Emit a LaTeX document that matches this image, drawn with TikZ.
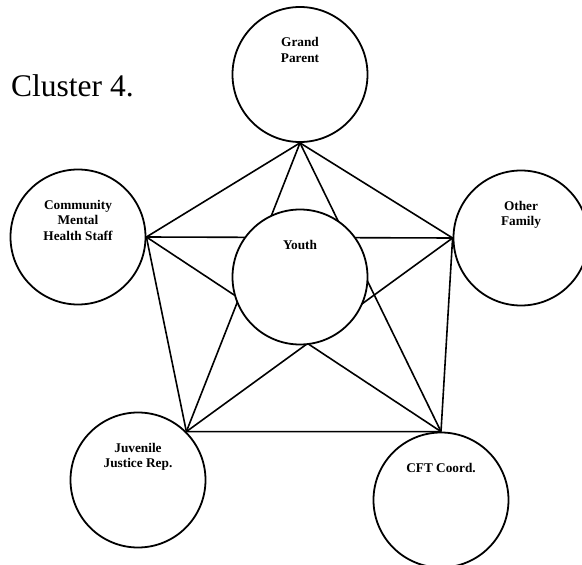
\documentclass[tikz,border=0pt]{standalone}
\usepackage{fontspec}
\setmainfont{Liberation Serif}
\usepackage{tikz}
\usetikzlibrary{positioning}

\begin{document}
\begin{tikzpicture}[
    x=1pt, y=-1pt,
    member/.style={circle, draw=black, line width=1.8pt, minimum size=135pt,
        inner sep=0pt},
    lbl/.style={font=\fontsize{13.3}{15.5}\selectfont\bfseries, align=center,
        inner sep=0pt},
    link/.style={line width=1.6pt, black}
]
    \useasboundingbox (0,0) rectangle (582,565);
    \node[font=\fontsize{31.5}{36}\selectfont, anchor=base west, inner sep=0pt]
        (title) at (11,96) {Cluster 4.};
    % outer circles
    \node[member] (gp)    at (300,74.5) {};
    \node[member] (cmh)   at (78,237)   {};
    \node[member] (other) at (521,238)  {};
    \node[member] (jj)    at (138,480)  {};
    \node[member] (cft)   at (441,500)  {};
    % every member linked to every other one
    \draw[link] (gp.south) -- (cmh.east);
    \draw[link] (gp.south) -- (other.west);
    \draw[link] (gp.south) -- (jj.north east);
    \draw[link] (gp.south) -- (cft.north);
    \draw[link] (cmh.east) -- (other.west);
    \draw[link] (cmh.east) -- (jj.north east);
    \draw[link] (cmh.east) -- (cft.north);
    \draw[link] (other.west) -- (jj.north east);
    \draw[link] (other.west) -- (cft.north);
    \draw[link] (jj.north east) -- (cft.north);
    % youth in the middle, on top of the links
    \node[member, fill=white] (youth) at (300,277) {};
    % labels
    \node[lbl, below=31pt] at (gp.north)    {Grand\\Parent};
    \node[lbl, below=31pt] at (cmh.north)   {Community\\Mental\\Health Staff};
    \node[lbl, below=31pt] at (other.north) {Other\\Family};
    \node[lbl, below=31pt] at (youth.north) {Youth};
    \node[lbl, below=31pt] at (jj.north)    {Juvenile\\Justice Rep.};
    \node[lbl, below=31pt] at (cft.north)   {CFT Coord.};
\end{tikzpicture}
\end{document}
